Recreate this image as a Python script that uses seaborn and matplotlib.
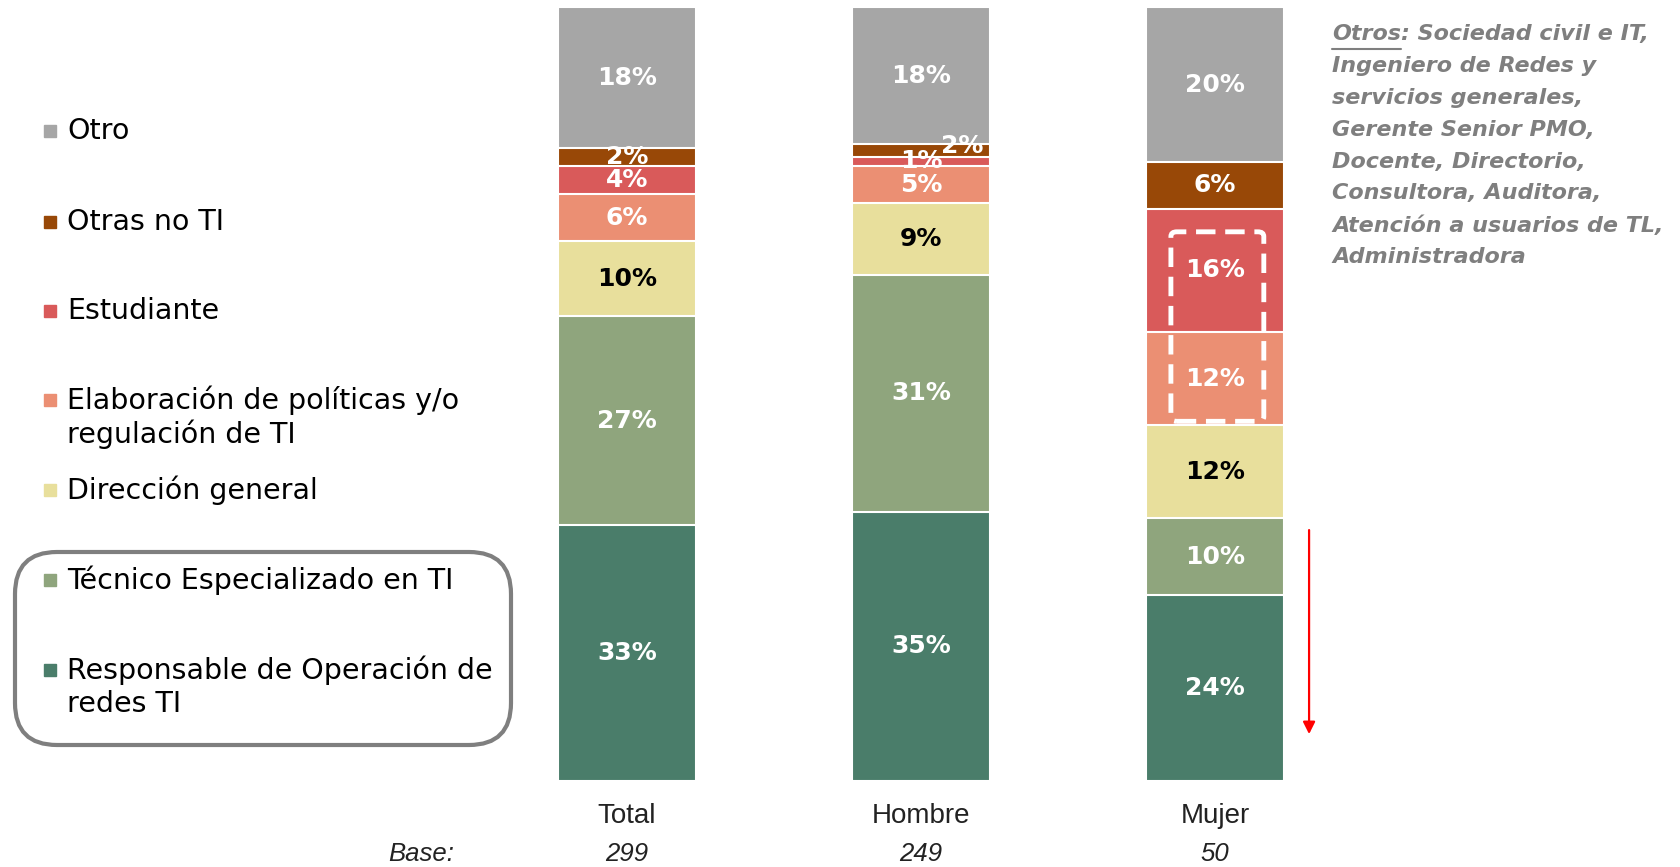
import pandas as pd
import seaborn as sns
import matplotlib.pyplot as plt
from matplotlib.patches import FancyBboxPatch, Rectangle
from matplotlib.transforms import blended_transform_factory

############# Data ######################
groups = ['Total', 'Hombre', 'Mujer']
bases = ['299', '249', '50']
# stack order, bottom to top
categories = ['Responsable de Operación de\nredes TI', 'Técnico Especializado en TI',
              'Dirección general', 'Elaboración de políticas y/o\nregulación de TI',
              'Estudiante', 'Otras no TI', 'Otro']
colors = ['#4A7D6A', '#8FA57D', '#E8DF9C', '#EB8F73', '#D95A5A', '#984807', '#A6A6A6']
label_colors = ['white', 'white', 'black', 'white', 'white', 'white', 'white']
total_vals = [33.1, 27.0, 9.7, 6.1, 3.6, 2.4, 18.1]
hombre_vals = [34.8, 30.6, 9.3, 4.8, 1.2, 1.7, 17.6]
mujer_vals = [24, 10, 12, 12, 16, 6, 20]
note_head = 'Otros'
note_lines = [': Sociedad civil e IT,', 'Ingeniero de Redes y', 'servicios generales,',
              'Gerente Senior PMO,', 'Docente, Directorio,', 'Consultora, Auditora,',
              'Atención a usuarios de TL,', 'Administradora']

W, H = 1680, 867
def fx(px):
    return px / W
def fy(py):
    return 1 - py / H

############# Build long table ######################
rows = []
for g, vals in zip(groups, [total_vals, hombre_vals, mujer_vals]):
    cum = 0
    for i, (cat, v) in enumerate(zip(categories, vals)):
        rows.append({'group': g, 'category': cat, 'idx': i, 'value': v,
                     'bottom': cum, 'top': cum + v})
        cum += v
df = pd.DataFrame(rows)

############# Plot ######################
sns.set_style('white')
plt.rcParams['font.family'] = ['DejaVu Sans']

fig = plt.figure(figsize=(16.8, 8.67), dpi=100)
ax = fig.add_axes([fx(480), fy(781), fx(882), 773.5 / H])

# stacked bars: draw cumulative tops from the highest layer down
for i in reversed(range(len(categories))):
    sub = df[df['idx'] == i]
    sns.barplot(data=sub, x='group', y='top', order=groups, color=colors[i],
                saturation=1, width=0.47, edgecolor='white', linewidth=1.5,
                errorbar=None, ax=ax)

gpos = {g: k for k, g in enumerate(groups)}
offsets = {('Hombre', 5): (0.14, 0.6)}
for _, r in df.iterrows():
    dx, dy = offsets.get((r['group'], r['idx']), (0, 0))
    ax.text(gpos[r['group']] + dx, r['bottom'] + r['value'] / 2 + dy,
            f"{r['value']:.0f}%", ha='center', va='center', fontsize=18,
            fontweight='bold', color=label_colors[r['idx']])

ax.set_xlim(-0.5, 2.5)
ax.set_ylim(0, 100)
ax.axis('off')

# group names and bases under the bars
tr = blended_transform_factory(ax.transData, fig.transFigure)
for k, (g, b) in enumerate(zip(groups, bases)):
    ax.text(k, fy(816), g, transform=tr, ha='center', va='center',
            fontsize=20, family='Liberation Sans', color='#222222')
    ax.text(k, fy(854), b, transform=tr, ha='center', va='center',
            fontsize=18.5, style='italic', family='Liberation Sans', color='#222222')
fig.text(fx(421), fy(854), 'Base:', ha='center', va='center', fontsize=18.5,
         style='italic', family='Liberation Sans', color='#222222')

# dashed highlight box on Mujer
ax.add_patch(FancyBboxPatch((1.85, 46.5), 0.316, 24.5,
                            boxstyle='round,pad=0,rounding_size=0.02',
                            fill=False, edgecolor='white', linestyle=(0, (4, 2)),
                            linewidth=3.5, mutation_aspect=30))
# red arrow
ax.annotate('', xy=(2.32, 5.7), xytext=(2.32, 32.8),
            arrowprops=dict(arrowstyle='-|>', color='red', lw=1.6,
                            mutation_scale=18))

############# Legend (manual) ######################
leg_y = [670, 580, 490, 400, 311, 222, 131]
for i in reversed(range(len(categories))):
    y0 = leg_y[i]
    fig.patches.append(Rectangle((fx(44), fy(y0 + 6)), fx(12), 12 / H,
                                 transform=fig.transFigure, color=colors[i]))
    for j, line in enumerate(categories[i].split('\n')):
        fig.text(fx(67), fy(y0 + j * 34), line, ha='left', va='center',
                 fontsize=20.5, color='black')

fig.patches.append(FancyBboxPatch((fx(15), fy(745)), fx(496), 193 / H,
                                  boxstyle='round,pad=0,rounding_size=0.025',
                                  transform=fig.transFigure, fill=False,
                                  edgecolor='#7F7F7F', linewidth=3,
                                  mutation_aspect=W / H))

############# Note ######################
note_kw = dict(ha='left', va='center', fontsize=16, style='italic',
               fontweight='bold', color='#7F7F7F')
head = fig.text(fx(1332), fy(34), note_head, **note_kw)
fig.canvas.draw()
bb = head.get_window_extent(fig.canvas.get_renderer())
fig.add_artist(plt.Line2D([bb.x0 / W, bb.x1 / W], [fy(49), fy(49)],
                          transform=fig.transFigure, color='#7F7F7F', lw=1.5))
fig.text(bb.x1 / W, fy(34), note_lines[0], **note_kw)
for j, line in enumerate(note_lines[1:], start=1):
    fig.text(fx(1332), fy(34 + j * 31.9), line, **note_kw)

plt.savefig('out.png', dpi=100)
